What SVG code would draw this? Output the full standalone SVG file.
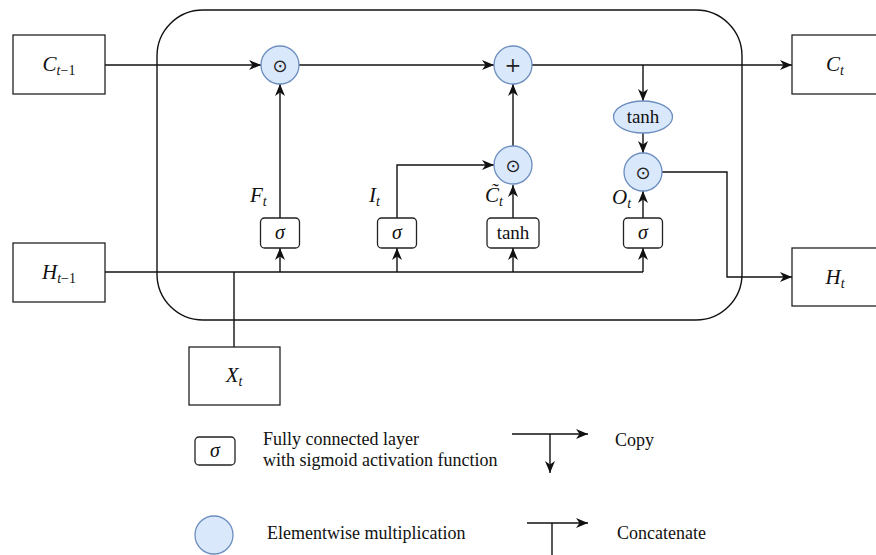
<svg xmlns="http://www.w3.org/2000/svg" width="876" height="555" viewBox="0 0 876 555">
<style>
.box{fill:#fff;stroke:#222;stroke-width:1.3}
.gate{fill:#fff;stroke:#222;stroke-width:1.3}
.op{fill:#dae8fc;stroke:#6c8ebf;stroke-width:1.3}
.ln{fill:none;stroke:#111;stroke-width:1.4}
.ar{marker-end:url(#ah)}
.m{font-family:"Liberation Serif",serif;font-style:italic;font-size:21px;fill:#111}
.sub{font-size:14px}
.up{font-style:normal}
.sg{font-size:20px}
.fn{font-family:"Liberation Serif",serif;font-size:19px;fill:#111}
.plus{font-family:"DejaVu Serif",serif;font-size:20px;fill:#222}
.sym{font-family:"DejaVu Sans",sans-serif;font-size:18px;fill:#222}
.lg{font-family:"Liberation Serif",serif;font-size:18px;fill:#111}
</style>
<defs>
<marker id="ah" markerWidth="13" markerHeight="11" refX="12" refY="5.5" orient="auto" markerUnits="userSpaceOnUse">
<path d="M0,0.5 L12,5.5 L0,10.5 L3.5,5.5 z" fill="#111"/>
</marker>
</defs>
<rect id="cell" x="157" y="10" width="585" height="310" rx="46" ry="46" fill="none" stroke="#111" stroke-width="1.4"/>
<g id="connectors">
<path class="ln ar" d="M105,65 H261"/>
<path class="ln ar" d="M299,65 H494"/>
<path class="ln ar" d="M532,65 H792"/>
<path class="ln ar" d="M643,65 V101"/>
<path class="ln ar" d="M643,133 V153"/>
<path class="ln ar" d="M643,218 V191"/>
<path class="ln ar" d="M662,172 H727 V277 H792"/>
<path class="ln" d="M105,272 H643"/>
<path class="ln" d="M234,347 V272"/>
<path class="ln ar" d="M280,272 V248"/>
<path class="ln ar" d="M397,272 V248"/>
<path class="ln ar" d="M513,272 V248"/>
<path class="ln ar" d="M643,272 V248"/>
<path class="ln ar" d="M280,218 V84"/>
<path class="ln ar" d="M397,218 V165 H494"/>
<path class="ln ar" d="M513,218 V185"/>
<path class="ln ar" d="M513,146 V84"/>
</g>
<g id="c_prev"><rect class="box" x="13" y="35" width="92" height="59"/><text class="m" x="59" y="71" text-anchor="middle">C<tspan class="sub" dy="4">t</tspan><tspan class="sub up">−1</tspan></text></g>
<g id="h_prev"><rect class="box" x="13" y="243" width="92" height="59"/><text class="m" x="59" y="279" text-anchor="middle">H<tspan class="sub" dy="4">t</tspan><tspan class="sub up">−1</tspan></text></g>
<g id="x_t"><rect class="box" x="189" y="347" width="91" height="58"/><text class="m" x="234" y="382" text-anchor="middle">X<tspan class="sub" dy="4">t</tspan></text></g>
<g id="c_t"><rect class="box" x="792" y="35" width="90" height="59"/><text class="m" x="835" y="71" text-anchor="middle">C<tspan class="sub" dy="4">t</tspan></text></g>
<g id="h_t"><rect class="box" x="792" y="248" width="90" height="58"/><text class="m" x="835" y="284" text-anchor="middle">H<tspan class="sub" dy="4">t</tspan></text></g>
<g id="mul_f"><circle class="op" cx="280" cy="65" r="19"/><text class="sym" x="280" y="71.5" text-anchor="middle">⊙</text></g>
<g id="add"><circle class="op" cx="513" cy="65" r="19"/><text class="plus" x="513" y="72" text-anchor="middle">+</text></g>
<g id="mul_i"><circle class="op" cx="513" cy="165" r="19"/><text class="sym" x="513" y="171.5" text-anchor="middle">⊙</text></g>
<g id="tanh_c"><ellipse class="op" cx="643" cy="117" rx="29.5" ry="16"/><text class="fn" x="643" y="123" text-anchor="middle">tanh</text></g>
<g id="mul_o"><circle class="op" cx="643" cy="172" r="19"/><text class="sym" x="643" y="178.5" text-anchor="middle">⊙</text></g>
<g id="sig_f"><rect class="gate" x="260.5" y="218" width="39" height="30" rx="4"/><text class="m sg" x="280" y="239" text-anchor="middle">σ</text></g>
<g id="sig_i"><rect class="gate" x="377.5" y="218" width="39" height="30" rx="4"/><text class="m sg" x="397" y="239" text-anchor="middle">σ</text></g>
<g id="tanh_g"><rect class="gate" x="487" y="218" width="52" height="30" rx="4"/><text class="fn" x="513" y="239" text-anchor="middle">tanh</text></g>
<g id="sig_o"><rect class="gate" x="623.5" y="218" width="39" height="30" rx="4"/><text class="m sg" x="643" y="239" text-anchor="middle">σ</text></g>
<g id="labels">
<text class="m" x="250" y="202">F<tspan class="sub" dy="4">t</tspan></text>
<text class="m" x="369" y="202">I<tspan class="sub" dy="4">t</tspan></text>
<text class="m" x="485" y="202">C̃<tspan class="sub" dy="4">t</tspan></text>
<text class="m" x="612" y="204">O<tspan class="sub" dy="4">t</tspan></text>
</g>
<g id="legend">
<rect class="gate" x="195" y="437" width="40" height="28" rx="4"/>
<text class="m sg" x="215" y="457" text-anchor="middle">σ</text>
<text class="lg" x="263" y="445">Fully connected layer</text>
<text class="lg" x="263" y="466">with sigmoid activation function</text>
<path class="ln ar" d="M512,434 H588"/>
<path class="ln ar" d="M550,434 V473"/>
<text class="lg" x="615" y="446">Copy</text>
<circle class="op" cx="214" cy="535" r="19"/>
<text class="lg" x="267" y="539">Elementwise multiplication</text>
<path class="ln ar" d="M527,523 H588"/>
<path class="ln" d="M552,523 V556"/>
<text class="lg" x="617" y="539">Concatenate</text>
</g>
</svg>
